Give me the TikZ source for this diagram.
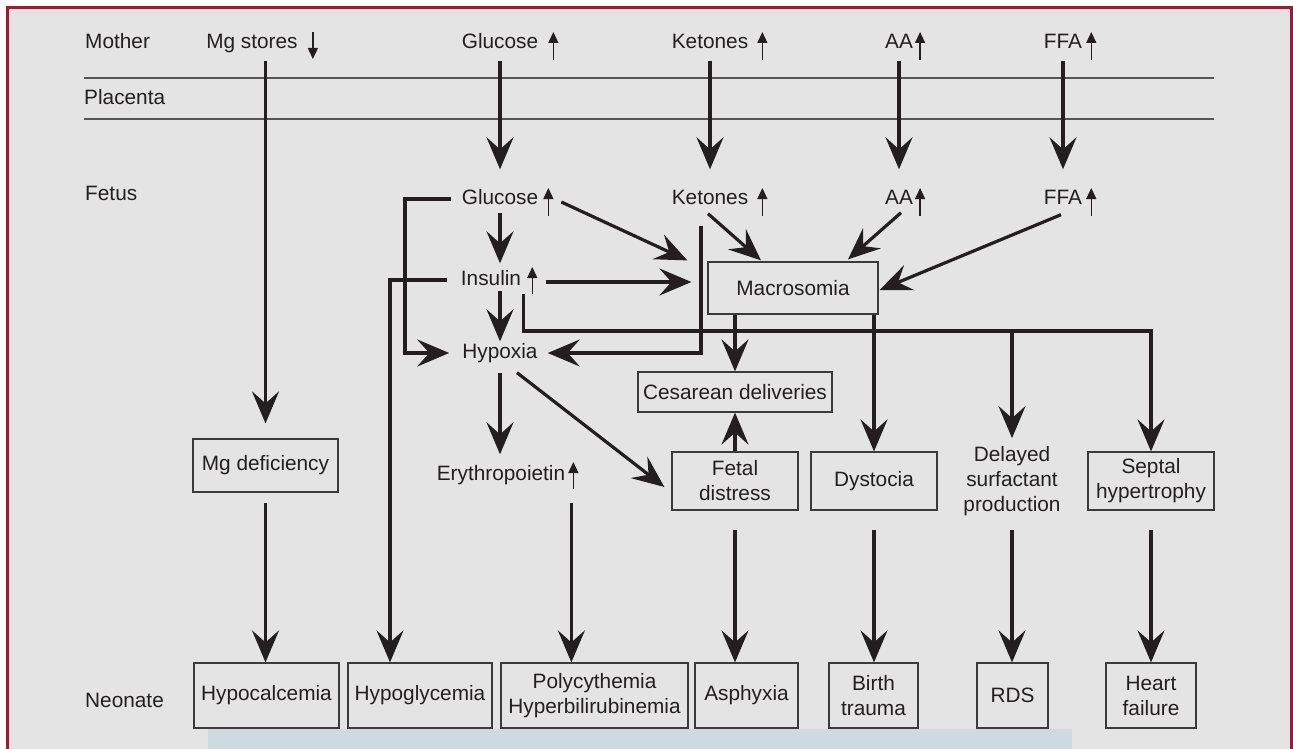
\documentclass[tikz,border=0pt]{standalone}
\usepackage{fontspec}
\setmainfont{Liberation Sans}
\usetikzlibrary{arrows.meta,calc}
\definecolor{bg}{HTML}{E4E4E4}
\definecolor{frame}{HTML}{9E1B32}
\definecolor{ink}{HTML}{231F20}
\definecolor{boxc}{HTML}{3A3A3A}
\definecolor{strip}{HTML}{CDDAE1}
\definecolor{rulec}{HTML}{555555}
\begin{document}
\begin{tikzpicture}[x=1pt,y=-1pt,font=\fontsize{20.8}{25}\selectfont,
  lbl/.style={inner sep=0pt,text height=15pt,text depth=4pt,text=ink},
  bx/.style={draw=boxc,line width=1.2pt,inner sep=0pt,align=center,text=ink},
  arr/.style={draw=ink,line width=3.2pt,-{Stealth[length=32pt,width=27pt,inset=12pt]}},
  ln/.style={draw=ink,line width=3.2pt},
  sm/.style={draw=ink,line width=1.3pt,-{Triangle[length=11pt,width=10pt]}},
  rl/.style={draw=rulec,line width=1.5pt}]
\useasboundingbox (0,0) rectangle (1293,749);
% background and frame
\fill[bg] (7,8) rectangle (1291,749);
\draw[frame,line width=3pt] (7,749) -- (7,8) -- (1291,8) -- (1291,749);
\fill[strip] (208,729) rectangle (1072,749);
% placenta rules
\draw[rl] (84,78) -- (1214,78);
\draw[rl] (84,119) -- (1214,119);
% row labels
\node[lbl,anchor=west] (lmother) at (85,43) {Mother};
\node[lbl,anchor=west] (lplac) at (84,99) {Placenta};
\node[lbl,anchor=west] (lfetus) at (85,195) {Fetus};
\node[lbl,anchor=west] (lneo) at (85,702) {Neonate};
% mother row
\node[lbl] (mmg) at (252,43) {Mg stores};
\node[lbl] (mglu) at (500,43) {Glucose};
\node[lbl] (mket) at (710,43) {Ketones};
\node[lbl] (maa) at (899,43) {AA};
\node[lbl] (mffa) at (1063,43) {FFA};
% fetus row
\node[lbl] (fglu) at (500,199) {Glucose};
\node[lbl] (fket) at (710,199) {Ketones};
\node[lbl] (faa) at (899,199) {AA};
\node[lbl] (fffa) at (1063,199) {FFA};
\node[lbl] (ins) at (491,280) {Insulin};
\node[lbl] (hyp) at (500,353) {Hypoxia};
\node[lbl] (ery) at (501,475) {Erythropoietin};
\node[bx,minimum width=170pt,minimum height=52pt] (mac) at (793,288) {Macrosomia};
\node[bx,minimum width=194pt,minimum height=40pt] (ces) at (735,392) {Cesarean deliveries};
\node[bx,minimum width=126pt,minimum height=58pt] (fd) at (735,481) {Fetal\\distress};
\node[bx,minimum width=126pt,minimum height=58pt] (dys) at (874,481) {Dystocia};
\node[inner sep=0pt,align=center,text=ink] (del) at (1012,481) {Delayed\\surfactant\\production};
\node[bx,minimum width=126pt,minimum height=58pt] (sep) at (1151,481) {Septal\\hypertrophy};
\node[bx,minimum width=145pt,minimum height=53pt] (mgd) at (265.5,465.5) {Mg deficiency};
% neonate row
\node[bx,minimum width=145pt,minimum height=65pt] (hca) at (266.5,695.5) {Hypocalcemia};
\node[bx,minimum width=144pt,minimum height=65pt] (hgl) at (420,695.5) {Hypoglycemia};
\node[bx,minimum width=187pt,minimum height=65pt] (poly) at (594.5,695.5) {Polycythemia\\Hyperbilirubinemia};
\node[bx,minimum width=103pt,minimum height=65pt] (asp) at (746.5,695.5) {Asphyxia};
\node[bx,minimum width=89pt,minimum height=65pt] (bt) at (873.5,695.5) {Birth\\trauma};
\node[bx,minimum width=71pt,minimum height=65pt] (rds) at (1012.5,695.5) {RDS};
\node[bx,minimum width=90pt,minimum height=65pt] (hf) at (1151,695.5) {Heart\\failure};
% small trend arrows
\draw[sm] ($(mmg.east)+(15,-11)$) -- ++(0,27);
\draw[sm] ($(mglu.east)+(15,17)$) -- ++(0,-28);
\draw[sm] ($(mket.east)+(14,17)$) -- ++(0,-28);
\draw[sm] ($(maa.east)+(7,17)$) -- ++(0,-28);
\draw[sm] ($(mffa.east)+(9,17)$) -- ++(0,-28);
\draw[sm] ($(fglu.east)+(10,17)$) -- ++(0,-28);
\draw[sm] ($(fket.east)+(14,17)$) -- ++(0,-28);
\draw[sm] ($(faa.east)+(7,17)$) -- ++(0,-28);
\draw[sm] ($(fffa.east)+(9,17)$) -- ++(0,-28);
\draw[sm] ($(ins.east)+(11,14)$) -- ++(0,-27);
\draw[sm] ($(ery.east)+(8,14)$) -- ++(0,-27);
% mother -> fetus
\draw[arr,shorten <=8pt,shorten >=15pt] (mmg.south -| mgd.north) -- (mgd.north);
\draw[arr,shorten <=8pt,shorten >=20pt] (mglu.south) -- (fglu.north);
\draw[arr,shorten <=8pt,shorten >=20pt] (mket.south) -- (fket.north);
\draw[arr,shorten <=8pt,shorten >=20pt] (maa.south) -- (faa.north);
\draw[arr,shorten <=8pt,shorten >=20pt] (mffa.south) -- (fffa.north);
% fetal cascade
\coordinate (gbc) at (405,199);
\coordinate (hgc) at (390,280);
\draw[arr,shorten <=11pt,shorten >=13pt] (fglu.west) -- (gbc) |- (hyp.west);
\draw[arr,shorten <=14pt] (ins.west) -- (hgc) -- (hgc |- hgl.north);
\draw[arr,shorten <=4pt,shorten >=7pt] (fglu.south) -- (fglu.south |- ins.north);
\draw[arr,shorten <=1pt,shorten >=2pt] (ins.south -| hyp.north) -- (hyp.north);
\draw[arr,shorten <=10pt,shorten >=11pt] (hyp.south) -- (hyp.south |- ery.north);
\draw[arr] ($(hyp.south)+(17,10)$) -- ($(fd.west)+(-7,6)$);
\draw[arr] ($(fglu.east)+(23,3)$) -- ($(mac.north west)+(-20,-1)$);
\draw[arr] ($(ins.east)+(25,2)$) -- ($(mac.west)+(-16,-6)$);
\draw[arr] ($(fket.south)+(-2,5)$) -- ($(mac.north)+(-32,-1)$);
\draw[arr] ($(faa.south)+(2,4)$) -- ($(mac.north)+(55,-2)$);
\draw[arr] ($(fffa.south)+(-2,6)$) -- ($(mac.east)+(1,2)$);
\draw[arr,shorten >=10pt] ($(fket.south)+(-9,17)$) |- (hyp.east);
\coordinate (bus) at ($(ins.east)+(2,51)$);
\draw[arr] ($(ins.east)+(2,14)$) -- (bus) -| (sep.north);
\draw[arr,shorten >=8pt] (bus -| del.north) -- (del.north);
\draw[arr] (mac.south -| ces.north) -- (ces.north);
\draw[arr] (mac.south -| dys.north) -- (dys.north);
\draw[arr] (fd.north) -- (ces.south);
% to neonate
\coordinate (es) at ($(ery.south east)+(6,18)$);
\draw[arr,shorten <=10pt] (mgd.south) -- (mgd.south |- hca.north);
\draw[arr] (es) -- (es |- poly.north);
\draw[arr,shorten <=19pt] (fd.south) -- (fd.south |- asp.north);
\draw[arr,shorten <=19pt] (dys.south) -- (dys.south |- bt.north);
\draw[arr,shorten <=14pt] (del.south) -- (del.south |- rds.north);
\draw[arr,shorten <=19pt] (sep.south) -- (sep.south |- hf.north);
\end{tikzpicture}
\end{document}
